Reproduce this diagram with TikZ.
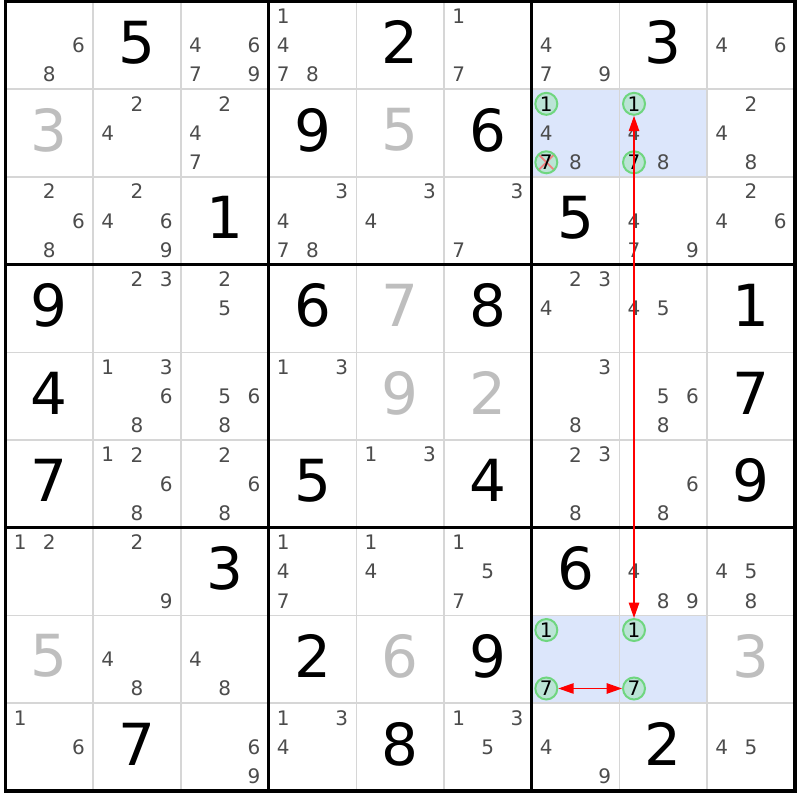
\documentclass[tikz,border=0pt]{standalone}
\usepackage{fontspec}
\setmainfont{DejaVu Sans}
\usetikzlibrary{arrows.meta}
\definecolor{candgray}{HTML}{4C4C4C}
\definecolor{givengray}{HTML}{BEBEBE}
\definecolor{gridgray}{HTML}{D6D6D6}
\definecolor{hilite}{HTML}{DCE6FB}
\definecolor{ringgreen}{HTML}{6FD67F}
\definecolor{ringfill}{HTML}{BBE4D6}
\definecolor{crossred}{HTML}{F08080}
\tikzset{
  cand/.style={font=\fontsize{15}{15}\selectfont, text=candgray, inner sep=0pt},
  bigblack/.style={font=\fontsize{43.5}{43.5}\selectfont, text=black, inner sep=0pt},
  biggray/.style={bigblack, text=givengray},
  ring/.style={circle, draw=ringgreen, fill=ringfill, line width=1.5pt, minimum size=16.5pt,
    inner sep=0pt, font=\fontsize{15}{15}\selectfont, text=black},
  ringx/.style={ring, path picture={
    \draw[crossred, line width=1.3pt] (path picture bounding box.center) ++(-5.5pt,-5.5pt) -- ++(11pt,11pt);
    \draw[crossred, line width=1.3pt] (path picture bounding box.center) ++(-5.5pt,5.5pt) -- ++(11pt,-11pt);}},
  gridthin/.style={draw=gridgray, line width=1.2pt},
  gridthick/.style={draw=black, line width=2.4pt},
  link/.style={draw=red, line width=1pt, {Triangle[length=11.5pt,width=7.8pt]}-{Triangle[length=11.5pt,width=7.8pt]}}
}
\def\gx{5.5}
\def\gy{1.5}
\def\cs{87.7}
\begin{document}
\begin{tikzpicture}[x=0.75pt,y=-0.75pt]
\useasboundingbox (0,0) rectangle (800,800);
% highlighted cells
\fill[hilite] ({\gx+6*\cs},{\gy+1*\cs}) rectangle ({\gx+8*\cs},{\gy+2*\cs});
\fill[hilite] ({\gx+6*\cs},{\gy+7*\cs}) rectangle ({\gx+8*\cs},{\gy+8*\cs});
% thin grid lines
\foreach \i in {1,2,4,5,7,8} {
  \draw[gridthin] ({\gx+\i*\cs},{\gy}) -- ({\gx+\i*\cs},{\gy+9*\cs});
  \draw[gridthin] ({\gx},{\gy+\i*\cs}) -- ({\gx+9*\cs},{\gy+\i*\cs});
}
% thick box lines
\foreach \i in {3,6} {
  \draw[gridthick] ({\gx+\i*\cs},{\gy}) -- ({\gx+\i*\cs},{\gy+9*\cs});
  \draw[gridthick] ({\gx},{\gy+\i*\cs}) -- ({\gx+9*\cs},{\gy+\i*\cs});
}
\draw[draw=black, line width=2.7pt] ({\gx},{\gy}) rectangle ({\gx+9*\cs},{\gy+9*\cs});
% solved digits (black)
\foreach \r/\c/\v in {0/1/5, 0/4/2, 0/7/3, 1/3/9, 1/5/6, 2/2/1, 2/6/5, 3/0/9, 3/3/6, 3/5/8, 3/8/1,
  4/0/4, 4/8/7, 5/0/7, 5/3/5, 5/5/4, 5/8/9, 6/2/3, 6/6/6, 7/3/2, 7/5/9, 8/1/7, 8/4/8, 8/7/2} {
  \node[bigblack] (b\r\c) at ({\gx+(\c+0.5)*\cs},{\gy+(\r+0.5)*\cs-3}) {\v};
}
% given digits (gray)
\foreach \r/\c/\v in {1/0/3, 1/4/5, 3/4/7, 4/4/9, 4/5/2, 7/0/5, 7/4/6, 7/8/3} {
  \node[biggray] (g\r\c) at ({\gx+(\c+0.5)*\cs},{\gy+(\r+0.5)*\cs-3}) {\v};
}
% candidates
\foreach \r/\c/\ds in {0/0/{6,8}, 0/2/{4,6,7,9}, 0/3/{1,4,7,8}, 0/5/{1,7}, 0/6/{4,7,9}, 0/8/{4,6},
  1/1/{2,4}, 1/2/{2,4,7}, 1/6/{4,8}, 1/7/{4,8}, 1/8/{2,4,8},
  2/0/{2,6,8}, 2/1/{2,4,6,9}, 2/3/{3,4,7,8}, 2/4/{3,4}, 2/5/{3,7}, 2/7/{4,7,9}, 2/8/{2,4,6},
  3/1/{2,3}, 3/2/{2,5}, 3/6/{2,3,4}, 3/7/{4,5},
  4/1/{1,3,6,8}, 4/2/{5,6,8}, 4/3/{1,3}, 4/6/{3,8}, 4/7/{5,6,8},
  5/1/{1,2,6,8}, 5/2/{2,6,8}, 5/4/{1,3}, 5/6/{2,3,8}, 5/7/{6,8},
  6/0/{1,2}, 6/1/{2,9}, 6/3/{1,4,7}, 6/4/{1,4}, 6/5/{1,5,7}, 6/7/{4,8,9}, 6/8/{4,5,8},
  7/1/{4,8}, 7/2/{4,8},
  8/0/{1,6}, 8/2/{6,9}, 8/3/{1,3,4}, 8/5/{1,3,5}, 8/6/{4,9}, 8/8/{4,5}} {
  \foreach \d in \ds {
    \pgfmathtruncatemacro\kx{mod(\d-1,3)}
    \pgfmathtruncatemacro\ky{div(\d-1,3)}
    \node[cand] (k\r\c\d) at ({\gx+\c*\cs+(2*\kx+1)*\cs/6},{\gy+\r*\cs+(2*\ky+1)*\cs/6}) {\d};
  }
}
% circled candidates
\foreach \r/\c/\d/\st in {1/6/1/ring, 1/6/7/ringx, 1/7/1/ring, 1/7/7/ring,
  7/6/1/ring, 7/6/7/ring, 7/7/1/ring, 7/7/7/ring} {
  \pgfmathtruncatemacro\kx{mod(\d-1,3)}
  \pgfmathtruncatemacro\ky{div(\d-1,3)}
  \node[\st] (k\r\c\d) at ({\gx+\c*\cs+(2*\kx+1)*\cs/6},{\gy+\r*\cs+(2*\ky+1)*\cs/6}) {\d};
}
% links
\draw[link] (k771) -- (k171);
\draw[link] (k767) -- (k777);
\end{tikzpicture}
\end{document}
